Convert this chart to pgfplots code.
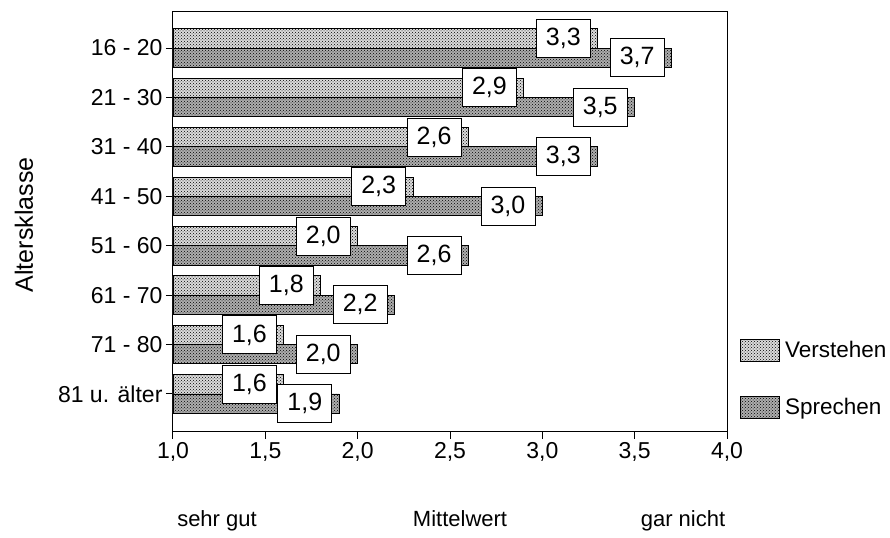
\documentclass[border=0pt]{standalone}
\usepackage{fontspec}
\setmainfont{Liberation Sans}
\usepackage{pgfplots}
\usepackage{pgfplotstable}
\pgfplotsset{compat=1.18}
\usetikzlibrary{patterns,calc}

% Mittelwerte je Altersklasse (1 = sehr gut, 4 = gar nicht)
\pgfplotstableread{
pos verstehen sprechen
7 3.3 3.7
6 2.9 3.5
5 2.6 3.3
4 2.3 3.0
3 2.0 2.6
2 1.8 2.2
1 1.6 2.0
0 1.6 1.9
}\alterdata

\tikzset{
  wertbox/.style={draw=black, fill=white, line width=0.8pt,
    minimum width=54pt, minimum height=38pt, inner sep=0pt,
    anchor=east, xshift=-7pt, font=\fontsize{25}{29}\selectfont},
}

\begin{document}
\begin{tikzpicture}
\begin{axis}[
  xbar,
  scale only axis,
  width=554pt, height=420pt,
  xmin=1, xmax=4,
  ymin=-0.77, ymax=7.73,
  xtick={1,1.5,2,2.5,3,3.5,4},
  ytick={0,1,2,3,4,5,6,7},
  yticklabels={81 u. älter, 71 - 80, 61 - 70, 51 - 60, 41 - 50, 31 - 40, 21 - 30, 16 - 20},
  tick align=outside,
  xtick pos=bottom, ytick pos=left,
  major tick length=7pt,
  every tick/.style={black, line width=1pt},
  axis line style={line width=1pt},
  tick label style={font=\fontsize{23}{27}\selectfont},
  /pgf/number format/use comma,
  /pgf/number format/fixed,
  /pgf/number format/fixed zerofill,
  /pgf/number format/precision=1,
  /pgf/number format/assume math mode=true,
  ylabel={Altersklasse},
  ylabel style={at={(axis description cs:-0.269,0.493)}, anchor=center,
    font=\fontsize{25}{30}\selectfont},
  bar width=0.39,
  legend image code/.code={\draw[#1] (0pt,-11pt) rectangle (39pt,11pt);},
  legend style={at={(axis description cs:1.0235,0.031)}, anchor=south west,
    draw=none, fill=none, inner sep=0pt, row sep=34pt, column sep=5pt,
    nodes={inner sep=0pt}, font=\fontsize{22.5}{26}\selectfont},
  legend cell align=left,
]
\addplot[fill=black!14, draw=black, line width=0.8pt,
  postaction={pattern=crosshatch dots}, bar shift=0.195]
  table[x=verstehen, y=pos] {\alterdata};
\addplot[fill=black!32, draw=black, line width=0.8pt,
  postaction={pattern=crosshatch dots}, bar shift=-0.195]
  table[x=sprechen, y=pos] {\alterdata};
% Wertekaesten ueber allen Balken
\addplot[draw=none, fill=none, bar shift=0.195, forget plot,
  point meta=x, nodes near coords,
  every node near coord/.append style={wertbox}]
  table[x=verstehen, y=pos] {\alterdata};
\addplot[draw=none, fill=none, bar shift=-0.195, forget plot,
  point meta=x, nodes near coords,
  every node near coord/.append style={wertbox}]
  table[x=sprechen, y=pos] {\alterdata};
\legend{Verstehen, Sprechen}
\end{axis}
\node[anchor=base, font=\fontsize{22}{26}\selectfont]
  at ($(current axis.south west)+(44pt,-95pt)$) {sehr gut};
\node[anchor=base, font=\fontsize{22}{26}\selectfont]
  at ($(current axis.south west)+(287pt,-95pt)$) {Mittelwert};
\node[anchor=base, font=\fontsize{22}{26}\selectfont]
  at ($(current axis.south west)+(510pt,-95pt)$) {gar nicht};
\path ($(current axis.south west)+(-173pt,-106pt)$)
  rectangle ($(current axis.north east)+(163pt,12pt)$);
\end{tikzpicture}
\end{document}
